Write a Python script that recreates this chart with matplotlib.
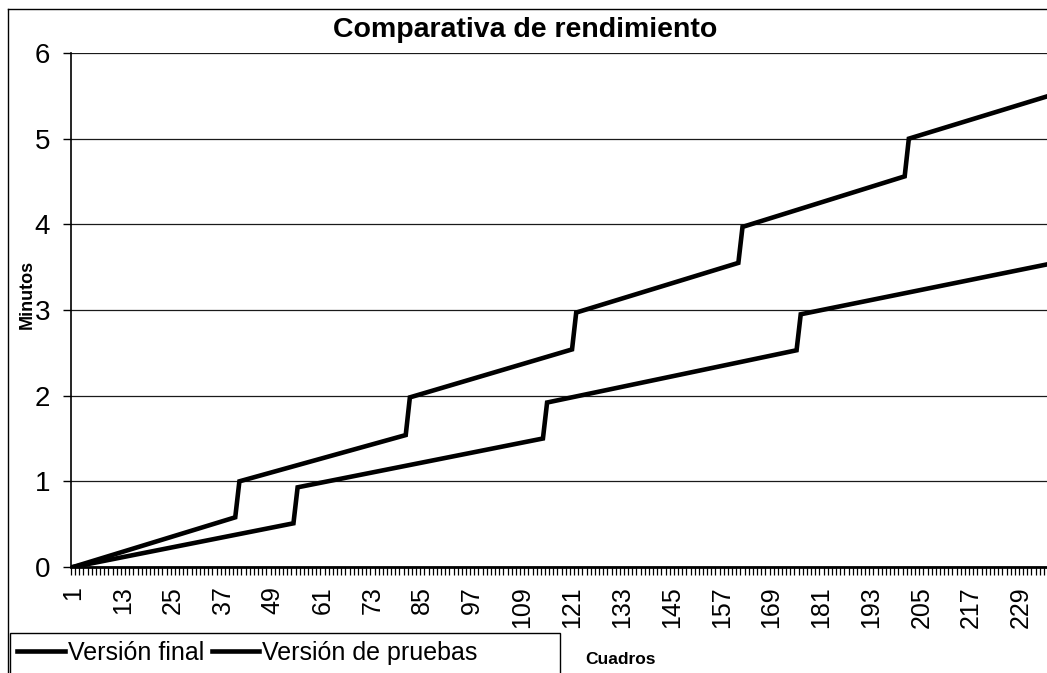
import matplotlib
matplotlib.use("Agg")
import matplotlib.pyplot as plt
from matplotlib.lines import Line2D
from matplotlib.patches import Rectangle
from matplotlib.ticker import FixedLocator, FixedFormatter

plt.rcParams['font.family'] = ['Liberation Sans', 'DejaVu Sans']

# Cumulative render time (minutes) at the frames where each curve changes slope
frames_final = [1, 54, 55, 114, 115, 175, 176, 235]
minutos_final = [0.0, 0.51, 0.93, 1.50, 1.92, 2.53, 2.95, 3.53]

frames_pruebas = [1, 40, 41, 81, 82, 121, 122, 161, 162, 201, 202, 235]
minutos_pruebas = [0.0, 0.58, 1.00, 1.54, 1.98, 2.54, 2.97, 3.55, 3.97, 4.56, 5.00, 5.49]

series_names = ["Versión final", "Versión de pruebas"]
n_frames = 235
tick_frames = [1, 13, 25, 37, 49, 61, 73, 85, 97, 109, 121, 133, 145, 157,
               169, 181, 193, 205, 217, 229]
tick_labels = [str(f) for f in tick_frames]
y_ticks = [0, 1, 2, 3, 4, 5, 6]

W, H = 1047, 673
fig = plt.figure(figsize=(W / 100, H / 100), dpi=100)
ax = fig.add_axes([71 / W, 1 - 567 / H, 976 / W, (567 - 53) / H])

l1, = ax.plot(frames_final, minutos_final, color='black', lw=3.3,
              solid_joinstyle='miter', zorder=3)
l2, = ax.plot(frames_pruebas, minutos_pruebas, color='black', lw=3.3,
              solid_joinstyle='miter', zorder=3)

ax.set_xlim(0.5, 0.5 + 976 / 4.158)
ax.set_ylim(0, 6)

# horizontal gridlines
ax.set_yticks(y_ticks)
ax.yaxis.grid(True, color='#1a1a1a', lw=0.9)
ax.set_axisbelow(True)
ax.tick_params(axis='y', direction='out', length=6, width=1, pad=9,
               labelsize=20, colors='black')

# category axis: a tick on every frame boundary, a label every 12 frames
ax.xaxis.set_major_locator(FixedLocator(tick_frames))
ax.xaxis.set_major_formatter(FixedFormatter(tick_labels))
ax.xaxis.set_minor_locator(FixedLocator([b + 0.5 for b in range(0, n_frames + 2)]))
ax.tick_params(axis='x', which='major', length=0, pad=14, labelsize=18,
               labelrotation=90)
ax.tick_params(axis='x', which='minor', direction='out', length=6, width=0.9,
               color='black')
for lab in ax.get_xticklabels():
    lab.set_verticalalignment('top')

for s in ('top', 'right'):
    ax.spines[s].set_visible(False)
ax.spines['left'].set_color('black')
ax.spines['left'].set_linewidth(1.2)
ax.spines['bottom'].set_color('black')
ax.spines['bottom'].set_linewidth(2.0)

# texts
fig.text(525 / W, 1 - 30 / H, "Comparativa de rendimiento", ha='center',
         va='center', fontsize=20.5, fontweight='bold')
fig.text(27 / W, 1 - 294 / H, "Minutos", ha='center', va='center',
         rotation=90, fontsize=13, fontweight='bold')
fig.text(620 / W, 1 - 660 / H, "Cuadros", ha='center', va='center',
         fontsize=12.5, fontweight='bold')

# chart-area frame
fig.add_artist(Line2D([8 / W, 8 / W], [1 - 9 / H, 0], color='black', lw=1,
                      transform=fig.transFigure))
fig.add_artist(Line2D([8 / W, 1], [1 - 9 / H, 1 - 9 / H], color='black', lw=1,
                      transform=fig.transFigure))

# legend box
fig.add_artist(Rectangle((10 / W, -0.02), 550 / W, (673 - 633) / H + 0.02,
                         transform=fig.transFigure, fill=False,
                         edgecolor='black', lw=1))
fig.legend([l1, l2], series_names, loc='center left',
           bbox_to_anchor=(17 / W, 1 - 653 / H), ncol=2, frameon=False,
           handlelength=1.9, handletextpad=0.12, columnspacing=0.32,
           fontsize=18, borderaxespad=0, borderpad=0)

fig.savefig("out.png", dpi=100)
